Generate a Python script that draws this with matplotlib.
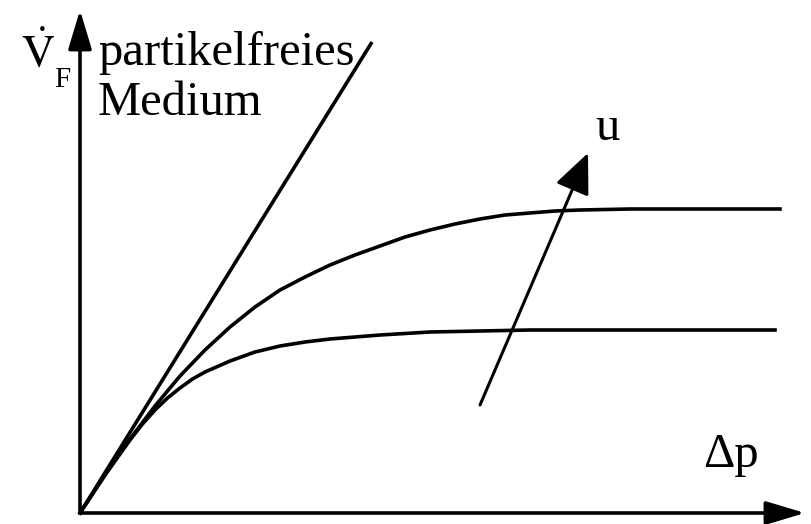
import matplotlib
matplotlib.use("Agg")
import matplotlib.pyplot as plt

plt.rcParams['font.family'] = ['Liberation Serif', 'DejaVu Serif']
plt.rcParams['mathtext.fontset'] = 'stix'

# Data (arbitrary units, origin at the axes corner)
line_x = [0, 292]            # partikelfreies Medium
line_y = [0, 471]

upper_x = [0, 25, 50, 75, 100, 125, 150, 175, 200, 225, 250, 275, 300, 325, 350, 375, 400, 425, 450, 475, 500, 550, 700]
upper_y = [0, 38, 74, 107, 137, 163, 186, 206, 223, 236, 248, 258, 267, 276, 283, 289, 294, 298, 300, 302, 303, 304, 304]

lower_x = [0, 25, 50, 62.5, 75, 87.5, 100, 112.5, 125, 150, 175, 200, 225, 250, 275, 300, 350, 400, 450, 695]
lower_y = [0, 38, 73, 89, 103, 115, 125, 134, 141, 152, 161, 167, 171, 174, 176, 178, 181, 182, 183, 183]

u_tail = (400, 108)
u_tip = (508, 360)

fig = plt.figure(figsize=(8.11, 5.24), dpi=100)
ax = fig.add_axes([0, 0, 1, 1])
ax.set_xlim(-80, 731)
ax.set_ylim(-11, 513)
ax.axis('off')

lw = 2.6
# axes with arrows
axprops = dict(arrowstyle='-|>,head_length=1.2,head_width=0.36', lw=lw, color='black',
               mutation_scale=20, shrinkA=0, shrinkB=0)
ax.annotate('', xy=(0, 503), xytext=(0, 0), arrowprops=axprops)
ax.annotate('', xy=(725, 0), xytext=(0, 0), arrowprops=axprops)

ax.plot(line_x, line_y, color='black', lw=lw, solid_capstyle='butt')
ax.plot(upper_x, upper_y, color='black', lw=lw, solid_joinstyle='round')
ax.plot(lower_x, lower_y, color='black', lw=lw, solid_joinstyle='round')

ax.annotate('', xy=u_tip, xytext=u_tail,
            arrowprops=dict(arrowstyle='-|>,head_length=1.25,head_width=0.55', lw=2.2,
                            color='black', mutation_scale=20, shrinkA=0, shrinkB=0))

fs = 35
ax.text(18, 448, 'partikelfreies', fontsize=fs, ha='left', va='baseline')
ax.text(18, 398, 'Medium', fontsize=fs, ha='left', va='baseline')
ax.text(515, 373, 'u', fontsize=fs, ha='left', va='baseline')
ax.text(623, 46, 'Δp', fontsize=fs, ha='left', va='baseline')
ax.text(-59, 446, r'$\dot{\mathrm{V}}$', fontsize=33, ha='left', va='baseline')
ax.text(-26, 426, 'F', fontsize=21, ha='left', va='baseline')

fig.savefig('out.png', dpi=100)
